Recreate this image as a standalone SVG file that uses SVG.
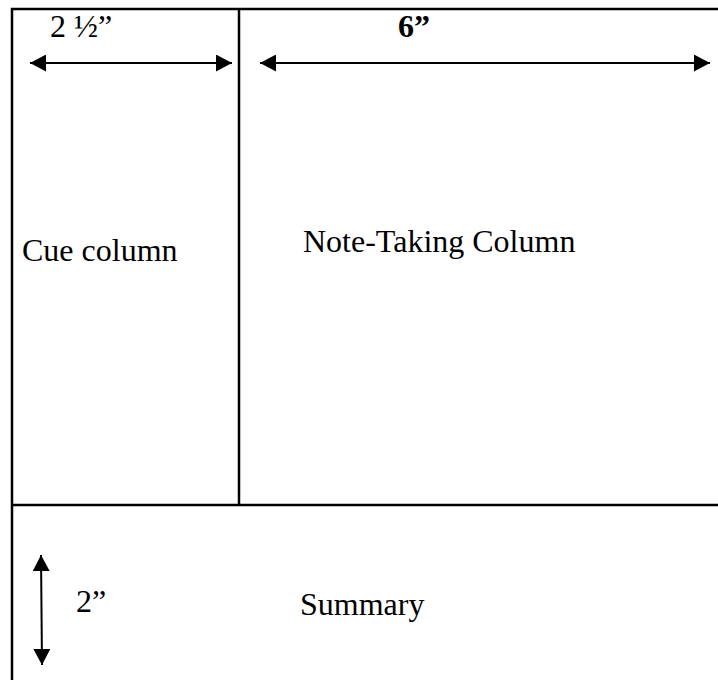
<svg xmlns="http://www.w3.org/2000/svg" width="718" height="680" viewBox="0 0 718 680">
<style>
.frame{stroke:#000;stroke-width:2.5;fill:none}
.dim{stroke:#000;stroke-width:2;fill:none}
.t{font-family:'Liberation Serif','Times New Roman',serif;font-size:32px;fill:#000}
.b{font-weight:bold}
</style>
<defs>
<marker id="ah" viewBox="0 0 16 17" refX="16" refY="8.5" markerWidth="16" markerHeight="17" markerUnits="userSpaceOnUse" orient="auto-start-reverse">
<path d="M0,0 L16,8.5 L0,17 Z" fill="#000"/>
</marker>
</defs>
<rect width="718" height="680" fill="#fff"/>
<g id="frame">
<path class="frame" d="M12,680 V9 H718"/>
<path class="frame" d="M239,9 V505"/>
<path class="frame" d="M12,505 H718"/>
</g>
<g id="connectors">
<line class="dim" x1="30" y1="63" x2="232" y2="63" marker-start="url(#ah)" marker-end="url(#ah)"/>
<line class="dim" x1="260" y1="63" x2="710" y2="63" marker-start="url(#ah)" marker-end="url(#ah)"/>
<line class="dim" x1="41" y1="555" x2="42" y2="665" marker-start="url(#ah)" marker-end="url(#ah)"/>
</g>
<g font-family="Liberation Serif, Times New Roman, serif" font-size="32">
<g id="cue-width"><text class="t" x="50" y="37">2 ½”</text></g>
<g id="notes-width"><text class="t b" x="398" y="37">6”</text></g>
<g id="cue-column"><text class="t" x="22" y="261">Cue column</text></g>
<g id="note-taking-column"><text class="t" x="303" y="252">Note-Taking Column</text></g>
<g id="summary-height"><text class="t" x="76" y="612">2”</text></g>
<g id="summary"><text class="t" x="300" y="615">Summary</text></g>
</g>
</svg>
